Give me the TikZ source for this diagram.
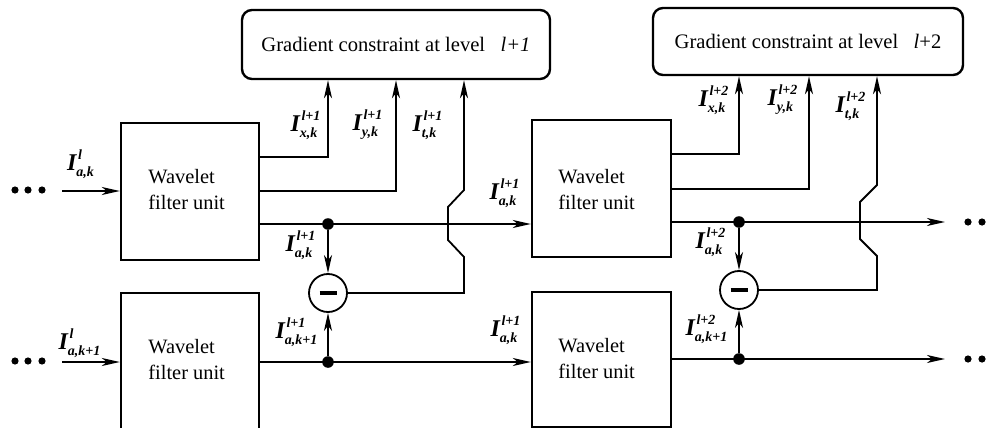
\documentclass[tikz,border=0pt]{standalone}
\usepackage{amsmath}
\usepackage{fontspec}
\setmainfont{Liberation Serif}
\usetikzlibrary{arrows.meta,calc}
\DeclareMathSizes{12}{12}{7}{5}
\newcommand{\Iv}[2]{{\fontsize{12}{14}\selectfont\bfseries\itshape$\textbf{\textit{I}}^{\kern0.8pt\textbf{\textit{#1}}}_{\textbf{\textit{#2}}}$}}
\begin{document}
\begin{tikzpicture}[x=0.5pt,y=-0.5pt,
  conn/.style={line width=0.9pt},
  arr/.style={conn,-{Stealth[length=9pt,width=4pt,inset=2.5pt]}},
  wbox/.style={draw,line width=1.2pt,inner sep=0pt,minimum width=69pt},
  gbox/.style={draw,line width=1.2pt,rounded corners=5pt,inner sep=0pt,font=\fontsize{10.3}{12}\selectfont},
  wtext/.style={anchor=west,align=left,font=\fontsize{10.2}{13}\selectfont,inner sep=0pt},
  lab/.style={inner sep=0pt},
  dot/.style={circle,fill,inner sep=0pt,minimum size=5.8pt},
  sdot/.style={circle,fill,inner sep=0pt,minimum size=3.6pt},
  subtr/.style={circle,draw,line width=0.9pt,inner sep=0pt,minimum size=19pt}]
\useasboundingbox (0,0) rectangle (992,428);

% gradient constraint boxes
\node[gbox,minimum width=154pt,minimum height=34.5pt] (G1) at (396,44.5) {Gradient constraint at level\hspace{0.75em}\textit{l+1}};
\node[gbox,minimum width=155pt,minimum height=33.5pt] (G2) at (808,41.5) {Gradient constraint at level\hspace{0.75em}\textit{l}+2};

% wavelet filter units
\node[wbox,minimum height=68.5pt] (W1) at (190,191.5) {};
\node[wbox,minimum height=77pt] (W2) at (190,370) {};
\node[wbox,minimum width=69.5pt,minimum height=68.5pt] (W3) at (601.5,188.5) {};
\node[wbox,minimum width=69.5pt,minimum height=67.5pt] (W4) at (601.5,359.5) {};

\node[wtext] (T1) at (148,190) {Wavelet\\filter unit};
\node[wtext] (T2) at (148,360) {Wavelet\\filter unit};
\node[wtext] (T3) at (558,190) {Wavelet\\filter unit};
\node[wtext] (T4) at (558,358.5) {Wavelet\\filter unit};

% junction dots and subtractors
\node[dot] (d1) at (328,224) {};
\node[dot] (d2) at (328,362) {};
\node[dot] (d3) at (739,222) {};
\node[dot] (d4) at (739,359) {};
\node[subtr] (C1) at (328,293) {\rule{8.5pt}{2pt}};
\node[subtr] (C2) at (739,290) {\rule{8.5pt}{2pt}};

% ellipsis dots
\foreach \x [count=\i] in {15,28,42}{
  \node[sdot] (la\i) at (\x,190) {};
  \node[sdot] (lb\i) at (\x,361) {};
}
\foreach \x [count=\i] in {968,982,996}{
  \node[sdot] (ra\i) at (\x,222) {};
  \node[sdot] (rb\i) at (\x,359) {};
}

% inputs
\coordinate (in1) at (62,191);
\coordinate (in2) at (62,362);
\draw[arr] (in1) -- (in1 -| W1.west);
\draw[arr] (in2) -- (in2 -| W2.west);

% stage 1
\coordinate (x1) at (328,157);
\coordinate (y1) at (396,191);
\coordinate (t1) at (464,293);
\draw[arr] (W1.east |- x1) -- (x1) -- (x1 |- G1.south);
\draw[arr] (W1.east |- y1) -- (y1) -- (y1 |- G1.south);
\draw[arr] (W1.east |- d1) -- (W3.west |- d1);
\draw[arr] (W2.east |- d2) -- (W4.west |- d2);
\draw[arr] (d1) -- (C1.north);
\draw[arr] (d2) -- (C1.south);
\draw[arr] (C1.east) -- (t1) -- ++(0,-36) -- ++(-16,-17) -- ++(0,-33) -- ++(16,-17) -- (t1 |- G1.south);

% stage 2
\coordinate (x2) at (739,154);
\coordinate (y2) at (809,189);
\coordinate (t2) at (877,290);
\coordinate (o1) at (945,222);
\coordinate (o2) at (945,359);
\draw[arr] (W3.east |- x2) -- (x2) -- (x2 |- G2.south);
\draw[arr] (W3.east |- y2) -- (y2) -- (y2 |- G2.south);
\draw[arr] (W3.east |- d3) -- (o1);
\draw[arr] (W4.east |- d4) -- (o2);
\draw[arr] (d3) -- (C2.north);
\draw[arr] (d4) -- (C2.south);
\draw[arr] (C2.east) -- (t2) -- ++(0,-34) -- ++(-17,-17) -- ++(0,-37) -- ++(17,-17) -- (t2 |- G2.south);

% labels
\node[lab] (La) at (81,164) {\Iv{l}{a,k}};
\node[lab] (Lb) at (80,343) {\Iv{l}{a,k+1}};
\node[lab] (Lx1) at (306,125) {\Iv{l+1}{x,k}};
\node[lab] (Ly1) at (368,125) {\Iv{l+1}{y,k}};
\node[lab] (Lt1) at (428,125) {\Iv{l+1}{t,k}};
\node[lab] (Ld1) at (301,245) {\Iv{l+1}{a,k}};
\node[lab] (Lu1) at (297,332) {\Iv{l+1}{a,k+1}};
\node[lab] (Lm1) at (505,193) {\Iv{l+1}{a,k}};
\node[lab] (Lm2) at (506,330) {\Iv{l+1}{a,k}};
\node[lab] (Lx2) at (714,100) {\Iv{l+2}{x,k}};
\node[lab] (Ly2) at (783,100) {\Iv{l+2}{y,k}};
\node[lab] (Lt2) at (851,106) {\Iv{l+2}{t,k}};
\node[lab] (Ld2) at (711,242) {\Iv{l+2}{a,k}};
\node[lab] (Lu2) at (707,329) {\Iv{l+2}{a,k+1}};
\end{tikzpicture}
\end{document}
